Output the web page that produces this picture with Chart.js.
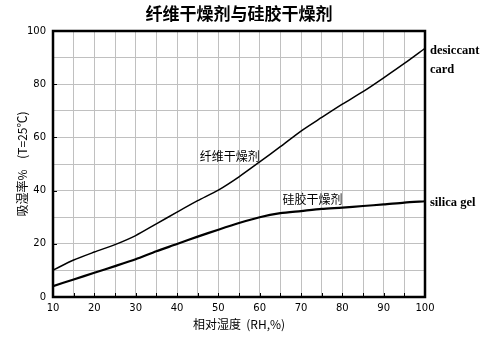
<!DOCTYPE html>
<html>
<head>
<meta charset="utf-8">
<script src="https://cdn.jsdelivr.net/npm/chart.js"></script>
<style>
  body { margin: 0; background: #fff; }
</style>
</head>
<body>
<canvas id="c" width="490" height="338"></canvas>
<script>
// relative humidity (%), every 5
const rh = [10, 15, 20, 25, 30, 35, 40, 45, 50, 55, 60, 65, 70, 75, 80, 85, 90, 95, 100];
// moisture uptake (%) at T=25C
const card = [10.1, 13.9, 16.9, 19.7, 23.1, 27.5, 31.9, 36.2, 40.2, 45.2, 50.8, 56.5, 62.4, 67.5, 72.5, 77.2, 82.4, 87.8, 93.5];
const gel = [4.1, 6.6, 9.1, 11.6, 14.2, 17.2, 19.9, 22.7, 25.3, 27.8, 30.0, 31.5, 32.3, 33.1, 33.6, 34.2, 34.8, 35.5, 36.0];
const yLabels = [0, 20, 40, 60, 80, 100];
const xLabels = [10, 20, 30, 40, 50, 60, 70, 80, 90, 100];
const title = '纤维干燥剂与硅胶干燥剂';

const cjk = '"Noto Sans CJK SC", sans-serif';
const toXY = (ys) => rh.map((x, i) => ({ x: x, y: ys[i] }));

// title, frame, inward ticks and text labels
const extras = {
  id: 'extras',
  afterDatasetsDraw(chart) {
    const { ctx, chartArea: a, scales: { x, y } } = chart;
    ctx.save();
    ctx.strokeStyle = '#000';
    ctx.lineWidth = 1;
    ctx.beginPath();
    rh.forEach(v => {
      const px = Math.round(x.getPixelForValue(v)) + 0.5;
      ctx.moveTo(px, a.bottom);
      ctx.lineTo(px, a.bottom - 4);
    });
    [20, 40, 60, 80].forEach(v => {
      const py = Math.round(y.getPixelForValue(v)) + 0.5;
      ctx.moveTo(a.left, py);
      ctx.lineTo(a.left + 4, py);
    });
    ctx.stroke();
    ctx.lineWidth = 2.5;
    ctx.strokeRect(a.left, a.top, a.right - a.left, a.bottom - a.top);

    ctx.fillStyle = '#000';
    ctx.textBaseline = 'middle';
    ctx.textAlign = 'center';
    ctx.font = 'bold 17px ' + cjk;
    ctx.fillText(title, (a.left + a.right) / 2, 14);

    ctx.font = '12px ' + cjk;
    ctx.textAlign = 'left';
    ctx.fillText('纤维干燥剂', x.getPixelForValue(45.5), y.getPixelForValue(53));
    ctx.fillText('硅胶干燥剂', x.getPixelForValue(65.5), y.getPixelForValue(36.5));

    ctx.font = 'bold 12.5px "Liberation Serif", serif';
    ctx.fillText('desiccant', a.right + 5, y.getPixelForValue(92.5));
    ctx.fillText('card', a.right + 5, y.getPixelForValue(85.5));
    ctx.fillText('silica gel', a.right + 5, y.getPixelForValue(35.5));
    ctx.restore();
  }
};

new Chart(document.getElementById('c'), {
  type: 'line',
  data: {
    datasets: [
      { label: 'desiccant card', data: toXY(card), borderColor: '#000', borderWidth: 1.5, pointRadius: 0, tension: 0.25 },
      { label: 'silica gel', data: toXY(gel), borderColor: '#000', borderWidth: 2.2, pointRadius: 0, tension: 0.25 }
    ]
  },
  options: {
    responsive: false,
    animation: false,
    layout: { padding: { top: 31, right: 65, left: 0, bottom: 0 } },
    plugins: {
      legend: { display: false },
      tooltip: { enabled: false },
      title: { display: false }
    },
    scales: {
      x: {
        type: 'linear',
        min: 10,
        max: 100,
        afterFit(s) { s.height = 41; },
        afterBuildTicks(s) { s.ticks = rh.map(v => ({ value: v })); },
        grid: { color: '#c0c0c0', drawTicks: false },
        border: { display: false },
        ticks: {
          color: '#000',
          padding: 5,
          maxRotation: 0,
          autoSkip: false,
          font: { family: '"DejaVu Sans", sans-serif', size: 10 },
          callback: v => xLabels.includes(v) ? String(v) : ''
        },
        title: {
          display: true,
          text: '相对湿度  (RH,%)',
          color: '#000',
          font: { family: cjk, size: 12 },
          padding: { top: 0, bottom: 6 }
        }
      },
      y: {
        min: 0,
        max: 100,
        afterFit(s) { s.width = 53; },
        grid: { color: '#c0c0c0', drawTicks: false },
        border: { display: false },
        ticks: {
          stepSize: 10,
          color: '#000',
          padding: 7,
          font: { family: '"DejaVu Sans", sans-serif', size: 10 },
          callback: v => yLabels.includes(v) ? String(v) : ''
        },
        title: {
          display: true,
          text: '吸湿率%    (T=25℃)',
          color: '#000',
          font: { family: cjk, size: 12 },
          padding: { top: 15, bottom: 0 }
        }
      }
    }
  },
  plugins: [extras]
});
</script>
</body>
</html>
